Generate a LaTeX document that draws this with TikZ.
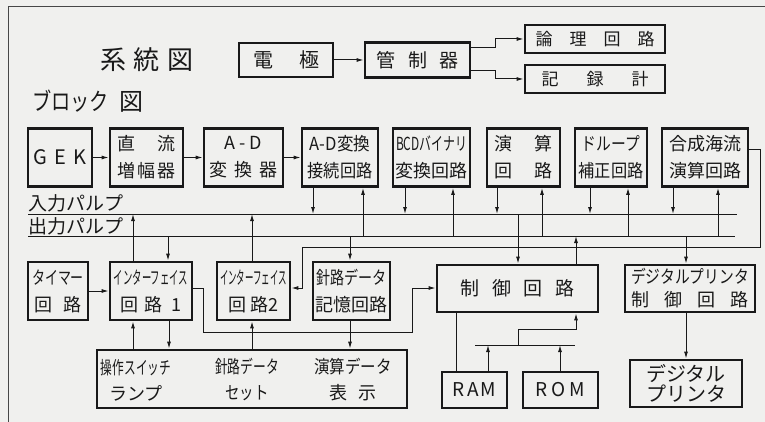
\documentclass[tikz,border=0pt]{standalone}
\usepackage{fontspec}
\usepackage{graphicx}
\setmainfont{Noto Sans CJK JP}
\usetikzlibrary{arrows.meta}
\definecolor{bgc}{RGB}{240,240,238}
\definecolor{ink}{RGB}{25,25,25}
\newcommand{\cz}[2]{\scalebox{#1}[1]{#2}}
\newcommand{\vln}[4]{\draw[#1] (#2,0 |- #3) -- (#2,0 |- #4);}
\begin{document}
\begin{tikzpicture}[x=1pt,y=-1pt,
  blk/.style={draw=ink, text=ink, line width=2.8pt, inner sep=0pt, align=center, font=\fontsize{18}{27}\selectfont},
  txt/.style={text=ink, inner sep=0pt, align=center, font=\fontsize{18}{26}\selectfont},
  ln/.style={draw=ink, line width=1pt},
  arr/.style={draw=ink, line width=1pt, -{Latex[length=7pt,width=4pt]}},
]
\fill[bgc] (0,0) rectangle (765,422);
\useasboundingbox (0,0) rectangle (765,422);
\draw[ink!80, line width=0.9pt] (8,422) -- (8,6) -- (765,6);

% ---- system diagram ----
\node[txt, font=\fontsize{26}{26}\selectfont] (t1) at (147,60) {系\hspace{8pt}統\hspace{8pt}図};
\node[txt, font=\fontsize{24}{24}\selectfont, anchor=west] (t2) at (32,101) {\cz{0.8}{ブロック}\hspace{10pt}図};
\node[blk, minimum width=94pt, minimum height=34pt, font=\fontsize{20}{24}\selectfont] (den) at (286,60) {電\hspace{26pt}極};
\node[blk, minimum width=105pt, minimum height=35pt, font=\fontsize{19}{24}\selectfont] (kan) at (417.5,60) {管\hspace{13pt}制\hspace{13pt}器};
\node[blk, minimum width=140pt, minimum height=28pt, font=\fontsize{17}{20}\selectfont] (ron) at (595,39) {論\hspace{17pt}理\hspace{17pt}回\hspace{17pt}路};
\node[blk, minimum width=140pt, minimum height=28pt, font=\fontsize{17}{20}\selectfont] (kir) at (595,79) {記\hspace{28pt}録\hspace{28pt}計};
\draw[arr] (den) -- (kan);
\draw[arr] (kan.east |- 0,48) -- (495,48) |- (ron.west);
\draw[arr] (kan.east |- 0,71) -- (495,71) |- (kir.west);

% ---- row 1 ----
\node[blk, minimum width=64pt, minimum height=58pt, font=\fontsize{20}{24}\selectfont] (gek) at (60,157.5) {G\hspace{7pt}E\hspace{7pt}K};
\node[blk, minimum width=73pt, minimum height=58pt] (dcamp) at (146.5,157.5) {直\hspace{22pt}流\\増\hspace{2pt}幅\hspace{2pt}器};
\node[blk, minimum width=79pt, minimum height=58pt] (adc) at (243.5,157.5) {A\hspace{4pt}-\hspace{4pt}D\\変\hspace{7pt}換\hspace{7pt}器};
\node[blk, minimum width=76pt, minimum height=58pt] (adif) at (340,157.5) {\cz{0.92}{A-D変換}\\\cz{0.9}{接続回路}};
\node[blk, minimum width=77pt, minimum height=58pt] (bcd) at (431.5,157.5) {\cz{0.66}{BCDバイナリ}\\変換回路};
\node[blk, minimum width=73pt, minimum height=58pt] (enz) at (523.5,157.5) {演\hspace{22pt}算\\回\hspace{22pt}路};
\node[blk, minimum width=72pt, minimum height=58pt] (dro) at (611,157.5) {\cz{0.82}{ドループ}\\\cz{0.9}{補正回路}};
\node[blk, minimum width=86pt, minimum height=58pt] (gos) at (705,157.5) {合成海流\\演算回路};
\draw[arr] (gek) -- (dcamp);
\draw[arr] (dcamp) -- (adc);
\draw[arr] (adc) -- (adif);

% ---- buses ----
\coordinate (inL) at (28,214);
\coordinate (inR) at (737,214);
\coordinate (outL) at (28,236);
\coordinate (outR) at (735,236);
\draw[ln] (inL) -- (inR);
\draw[ln] (outL) -- (outR);
\node[txt, anchor=base west, font=\fontsize{19}{19}\selectfont] (lin) at (28,211) {入力パルプ};
\node[txt, anchor=base west, font=\fontsize{19}{19}\selectfont] (lout) at (28,233) {出力パルプ};

\vln{arr}{313}{adif.south}{inL}
\vln{arr}{363}{outL}{adif.south}
\vln{arr}{405}{bcd.south}{inL}
\vln{arr}{453}{outL}{bcd.south}
\vln{arr}{497}{enz.south}{inL}
\vln{arr}{542}{outL}{enz.south}
\vln{arr}{590}{dro.south}{inL}
\vln{arr}{628}{outL}{dro.south}
\vln{arr}{673}{gos.south}{inL}
\vln{arr}{718}{outL}{gos.south}

% ---- row 2 ----
\node[blk, minimum width=60pt, minimum height=58pt] (tim) at (58,291) {\cz{0.72}{タイマー}\\回\hspace{12pt}路};
\node[blk, minimum width=82pt, minimum height=58pt] (if1) at (151,291) {\cz{0.52}{インターフェイス}\\回\hspace{7pt}路\hspace{9pt}1};
\node[blk, minimum width=73pt, minimum height=58pt] (if2) at (253.5,291) {\cz{0.47}{インターフェイス}\\回\hspace{5pt}路2};
\node[blk, minimum width=77pt, minimum height=58pt] (hdm) at (351.5,291) {\cz{0.78}{針路データ}\\記憶回路};
\node[blk, minimum width=161pt, minimum height=47pt, font=\fontsize{19}{24}\selectfont] (ctl) at (517.5,288.5) {制\hspace{13pt}御\hspace{13pt}回\hspace{13pt}路};
\node[blk, minimum width=130pt, minimum height=47pt, font=\fontsize{18}{23}\selectfont] (dpc) at (690,288.5) {\cz{0.82}{デジタルプリンタ}\\制\hspace{15pt}御\hspace{15pt}回\hspace{15pt}路};

\vln{arr}{133}{if1.north}{inL}
\vln{arr}{168}{outL}{if1.north}
\vln{arr}{252}{if2.north}{inL}
\vln{arr}{350}{outL}{hdm.north}
\vln{arr}{518}{inL}{ctl.north}
\vln{arr}{576}{ctl.north}{outL}
\vln{arr}{686}{outL}{dpc.north}

\draw[arr] (tim) -- (if1);
\draw[arr] (if1.east |- 0,288) -- (203,288) -- (203,332) -- (412,332) -- (412,288) -- (ctl.west |- 0,288);
\draw[arr] (gos.east |- 0,150) -- (760,150) -- (760,247) -- (302,247) -- (302,288) -- (if2.east |- 0,288);

% ---- bottom ----
\node[blk, minimum width=310pt, minimum height=58pt] (ops) at (252,379) {};
\node[txt] (o1) at (136,380) {\cz{0.65}{操作スイッチ}\\ランプ};
\node[txt] (o2) at (247,380) {\cz{0.71}{針路データ}\\\cz{0.8}{セット}};
\node[txt] (o3) at (353,380) {\cz{0.86}{演算データ}\\表\hspace{12pt}示};
\node[blk, minimum width=65pt, minimum height=36pt, font=\fontsize{19}{24}\selectfont] (ram) at (474.5,390) {R\hspace{2pt}A\hspace{2pt}M};
\node[blk, minimum width=75pt, minimum height=36pt, font=\fontsize{19}{24}\selectfont] (rom) at (560.5,390) {R\hspace{4pt}O\hspace{4pt}M};
\node[blk, minimum width=112pt, minimum height=47pt, font=\fontsize{20}{20}\selectfont] (dpr) at (686,383.5) {デジタル\\プリンタ};

\vln{arr}{133}{ops.north}{if1.south}
\vln{arr}{169}{if1.south}{ops.north}
\vln{arr}{252}{ops.north}{if2.south}
\vln{arr}{350}{hdm.south}{ops.north}
\vln{ln}{456}{ctl.south}{ram.north}
\coordinate (mbL) at (475,345);
\coordinate (mbR) at (575,345);
\draw[ln] (mbL) -- (mbR);
\vln{arr}{488}{ram.north}{mbL}
\vln{arr}{560}{rom.north}{mbL}
\draw[arr] (518,0 |- mbL) -- (518,329) -| (576,0 |- ctl.south);
\vln{arr}{686}{dpc.south}{dpr.north}
\end{tikzpicture}
\end{document}
